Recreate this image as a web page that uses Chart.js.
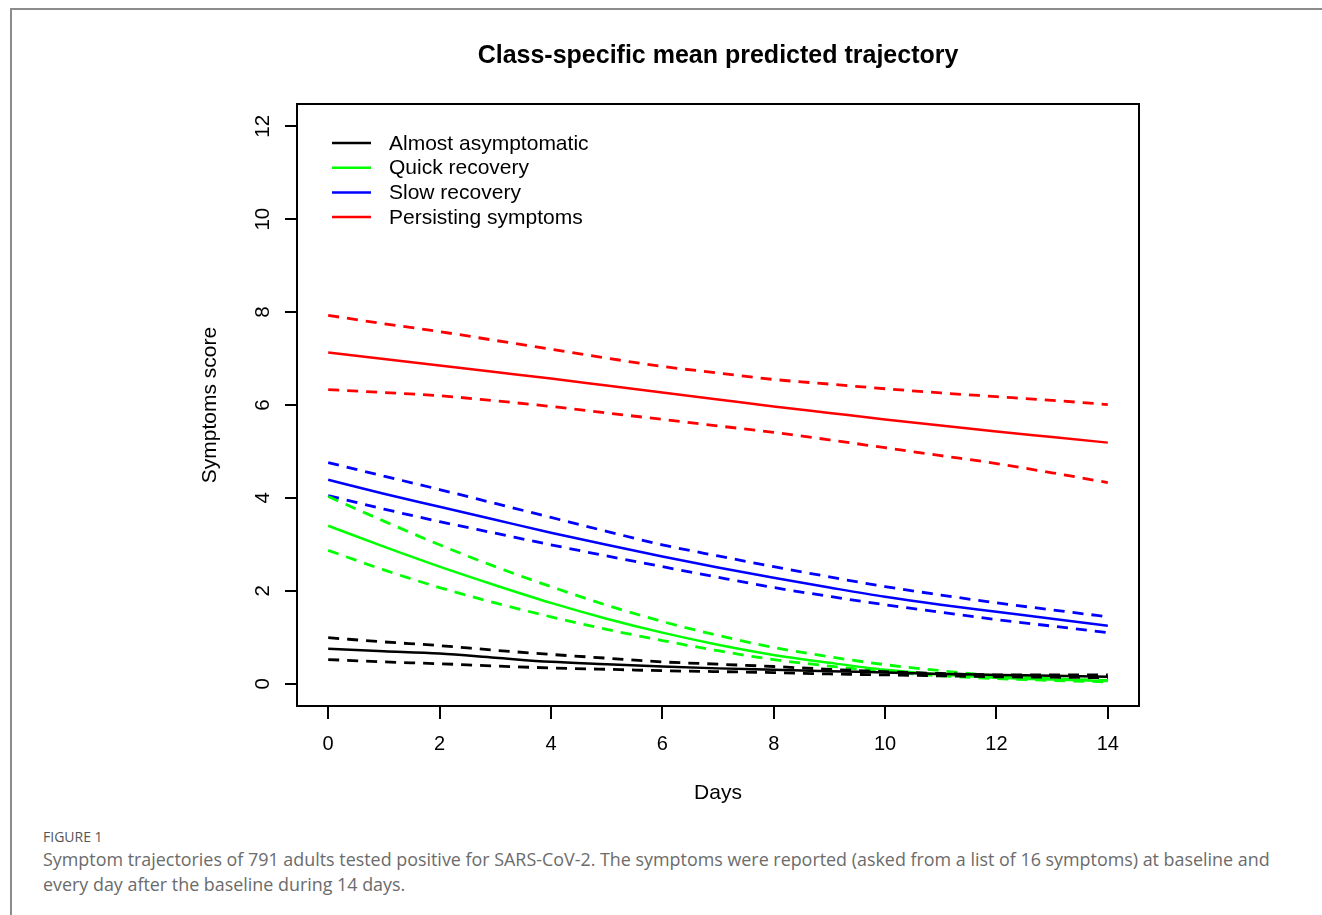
<!DOCTYPE html>
<html>
<head>
<meta charset="utf-8">
<script src="https://cdn.jsdelivr.net/npm/chart.js@4.4.1/dist/chart.umd.min.js"></script>
<style>
  body { margin: 0; background: #fff; width: 1322px; height: 915px; overflow: hidden; position: relative; }
  #frame { position: absolute; left: 10px; top: 8px; right: 0; bottom: 0; border-left: 2px solid #8c8c8c; border-top: 2px solid #8c8c8c; }
  #wrap { position: absolute; left: 0; top: 0; width: 1322px; height: 820px; }
  .fig { position: absolute; left: 43px; top: 827px; font-family: "Open Sans", sans-serif; font-size: 14px; color: #555; }
  .cap { position: absolute; left: 43px; top: 847px; width: 1275px; font-family: "Open Sans", sans-serif; font-size: 17.9px; line-height: 25px; color: #6b6b6b; }
</style>
</head>
<body>
<div id="frame"></div>
<div id="wrap"><canvas id="traj" width="1322" height="820"></canvas></div>
<div class="fig">FIGURE 1</div>
<div class="cap">Symptom trajectories of 791 adults tested positive for SARS-CoV-2. The symptoms were reported (asked from a list of 16 symptoms) at baseline and<br>every day after the baseline during 14 days.</div>
<script>
const days = [0, 1, 2, 3, 4, 5, 6, 7, 8, 9, 10, 11, 12, 13, 14];
const xTicks = [0, 2, 4, 6, 8, 10, 12, 14];
const yTicks = [0, 2, 4, 6, 8, 10, 12];

const classNames = ["Almost asymptomatic", "Quick recovery", "Slow recovery", "Persisting symptoms"];
const classColors = ["#000000", "#00ff00", "#0000ff", "#ff0000"];

// mean predicted score and the two dashed bands, per class
const almostMean  = [0.75, 0.70, 0.65, 0.56, 0.47, 0.42, 0.37, 0.33, 0.30, 0.27, 0.24, 0.21, 0.19, 0.17, 0.15];
const almostUpper = [0.99, 0.90, 0.82, 0.72, 0.63, 0.55, 0.47, 0.42, 0.37, 0.31, 0.26, 0.22, 0.19, 0.19, 0.19];
const almostLower = [0.52, 0.47, 0.43, 0.38, 0.34, 0.31, 0.28, 0.26, 0.24, 0.21, 0.19, 0.17, 0.15, 0.14, 0.13];

const quickMean  = [3.40, 2.95, 2.52, 2.12, 1.74, 1.40, 1.10, 0.84, 0.62, 0.45, 0.30, 0.20, 0.13, 0.09, 0.06];
const quickUpper = [4.03, 3.50, 2.99, 2.52, 2.09, 1.69, 1.34, 1.04, 0.78, 0.58, 0.41, 0.28, 0.17, 0.11, 0.07];
const quickLower = [2.87, 2.45, 2.07, 1.74, 1.44, 1.17, 0.93, 0.71, 0.52, 0.38, 0.26, 0.17, 0.11, 0.07, 0.04];

const slowMean  = [4.39, 4.09, 3.81, 3.53, 3.25, 2.99, 2.74, 2.50, 2.28, 2.07, 1.87, 1.70, 1.55, 1.40, 1.25];
const slowUpper = [4.76, 4.47, 4.18, 3.88, 3.58, 3.28, 2.99, 2.75, 2.52, 2.30, 2.09, 1.91, 1.74, 1.59, 1.44];
const slowLower = [4.05, 3.76, 3.49, 3.24, 2.99, 2.75, 2.52, 2.29, 2.07, 1.88, 1.70, 1.54, 1.38, 1.24, 1.10];

const persistMean  = [7.13, 6.99, 6.85, 6.71, 6.57, 6.42, 6.27, 6.12, 5.97, 5.83, 5.69, 5.56, 5.43, 5.31, 5.19];
const persistUpper = [7.93, 7.75, 7.58, 7.39, 7.20, 7.01, 6.83, 6.69, 6.55, 6.45, 6.35, 6.26, 6.18, 6.10, 6.01];
const persistLower = [6.33, 6.27, 6.20, 6.09, 5.97, 5.83, 5.69, 5.55, 5.41, 5.25, 5.08, 4.91, 4.74, 4.54, 4.33];

const classSeries = [
    [almostMean, almostUpper, almostLower],
    [quickMean, quickUpper, quickLower],
    [slowMean, slowUpper, slowLower],
    [persistMean, persistUpper, persistLower]
];

const rFont = '"Liberation Sans", Arial, Helvetica, sans-serif';

const datasets = [];
classSeries.forEach((group, ci) => {
    group.forEach((values, k) => {
        datasets.push({
            label: k === 0 ? classNames[ci] : classNames[ci] + (k === 1 ? " (upper)" : " (lower)"),
            data: days.map((d, i) => ({ x: d, y: values[i] })),
            borderColor: classColors[ci],
            borderWidth: k === 0 ? 2.5 : 2.8,
            borderDash: k === 0 ? [] : [11, 8],
            pointRadius: 0,
            cubicInterpolationMode: "monotone",
            fill: false
        });
    });
});

// box around the plot, rotated y labels and the R-style legend
const rBoxPlugin = {
    id: "rBox",
    afterDraw(chart) {
        const { ctx, chartArea: a, scales: { y } } = chart;
        ctx.save();
        ctx.strokeStyle = "#000";
        ctx.lineWidth = 2;
        ctx.setLineDash([]);
        ctx.strokeRect(a.left, a.top, a.right - a.left, a.bottom - a.top);

        ctx.fillStyle = "#000";
        ctx.font = "20.5px " + rFont;
        ctx.textAlign = "center";
        ctx.textBaseline = "middle";
        yTicks.forEach(v => {
            ctx.save();
            ctx.translate(a.left - 35, y.getPixelForValue(v));
            ctx.rotate(-Math.PI / 2);
            ctx.fillText(String(v), 0, 1);
            ctx.restore();
        });

        ctx.font = "21px " + rFont;
        ctx.textAlign = "left";
        classNames.forEach((name, i) => {
            const rowY = a.top + 39 + i * 24.7;
            ctx.strokeStyle = classColors[i];
            ctx.lineWidth = 2.5;
            ctx.beginPath();
            ctx.moveTo(a.left + 35, rowY);
            ctx.lineTo(a.left + 74, rowY);
            ctx.stroke();
            ctx.fillText(name, a.left + 92, rowY + 1);
        });
        ctx.restore();
    }
};

const ctx = document.getElementById("traj").getContext("2d");
new Chart(ctx, {
    type: "line",
    data: { datasets: datasets },
    options: {
        responsive: false,
        animation: false,
        devicePixelRatio: 1,
        layout: { padding: { left: 0, right: 183, top: 0, bottom: 0 } },
        scales: {
            x: {
                type: "linear",
                min: -0.56,
                max: 14.56,
                afterBuildTicks: s => { s.ticks = xTicks.map(v => ({ value: v })); },
                afterFit: s => { s.height = 114; },
                border: { display: false },
                grid: { drawOnChartArea: false, drawTicks: true, tickLength: 13, color: "#000", lineWidth: 2 },
                ticks: { autoSkip: false, maxRotation: 0, padding: 13, color: "#000", font: { family: rFont, size: 20 } },
                title: { display: true, text: "Days", color: "#000", font: { family: rFont, size: 21 }, padding: { top: 0, bottom: 14 } }
            },
            y: {
                type: "linear",
                min: -0.48,
                max: 12.48,
                afterBuildTicks: s => { s.ticks = yTicks.map(v => ({ value: v })); },
                afterFit: s => { s.width = 297; },
                border: { display: false },
                grid: { drawOnChartArea: false, drawTicks: true, tickLength: 12, color: "#000", lineWidth: 2 },
                ticks: { display: false },
                title: { display: true, text: "Symptoms score", color: "#000", font: { family: rFont, size: 21 }, padding: { top: 198, bottom: 0 } }
            }
        },
        plugins: {
            legend: { display: false },
            tooltip: { enabled: false },
            title: {
                display: true,
                fullSize: false,
                text: "Class-specific mean predicted trajectory",
                color: "#000",
                font: { family: rFont, size: 25, weight: "bold" },
                padding: { top: 41, bottom: 33 }
            }
        }
    },
    plugins: [rBoxPlugin]
});
</script>
</body>
</html>
